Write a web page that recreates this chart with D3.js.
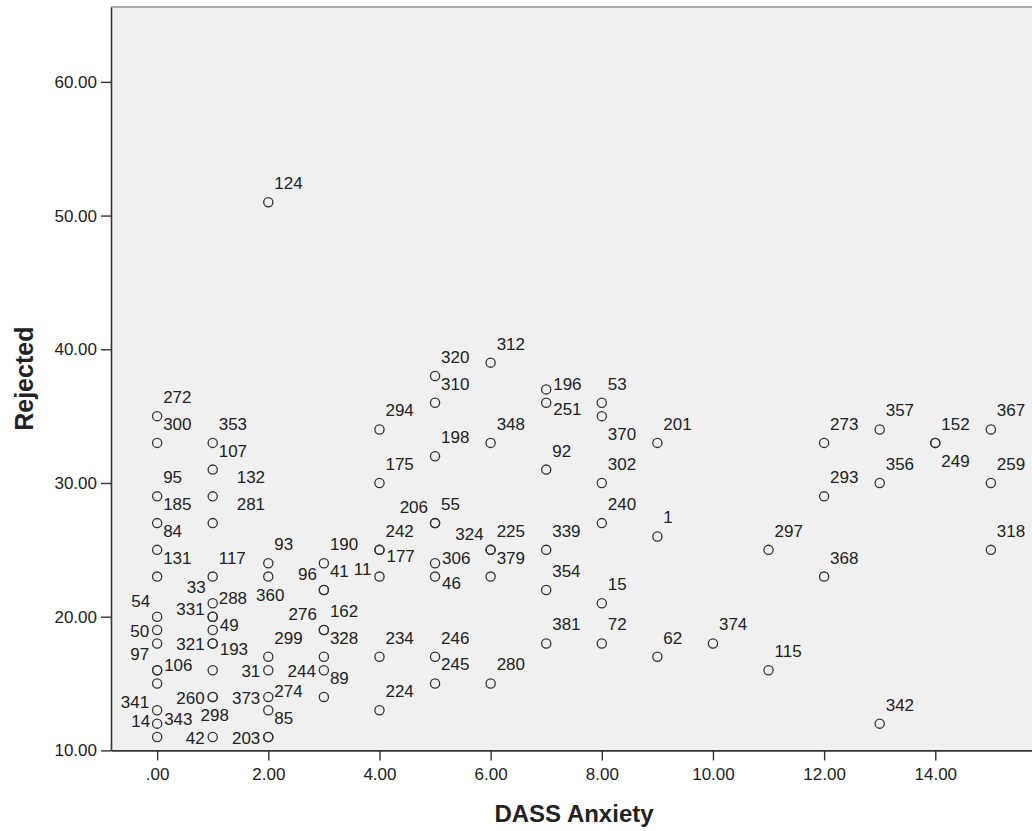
<!DOCTYPE html>
<html>
<head>
<meta charset="utf-8">
<title>Rejected x DASS Anxiety</title>
<script src="https://cdn.jsdelivr.net/npm/d3@7"></script>
<style>
  body { margin: 0; background: #fff; }
  svg text { font-family: "Liberation Sans", Arial, sans-serif; fill: #222; }
</style>
</head>
<body>
<div id="chart"></div>
<script>
// Dados: ansiedade (DASS), rejeição e número do caso (agrupados por coluna de x)
const anxiety = [
    0, 0, 0, 0, 0, 0, 0, 0, 0, 0, 0, 0, 0, 0, 0,
    1, 1, 1, 1, 1, 1, 1, 1, 1, 1, 1, 1, 1, 1, 1,
    2, 2, 2, 2, 2, 2, 2, 2, 2,
    3, 3, 3, 3, 3, 3, 3, 3,
    4, 4, 4, 4, 4, 4, 4,
    5, 5, 5, 5, 5, 5, 5, 5, 5,
    6, 6, 6, 6, 6, 6,
    7, 7, 7, 7, 7, 7,
    8, 8, 8, 8, 8, 8,
    9, 9, 9,
    10,
    11, 11,
    12, 12, 12,
    13, 13, 13,
    14, 14,
    15, 15, 15
];
const rejected = [
    35, 33, 29, 27, 25, 23, 20, 19, 18, 16, 16, 15, 13, 12, 11,
    33, 31, 29, 27, 23, 21, 20, 20, 19, 18, 18, 16, 14, 14, 11,
    51, 24, 23, 17, 16, 14, 13, 11, 11,
    24, 22, 22, 19, 19, 17, 16, 14,
    34, 30, 25, 25, 23, 17, 13,
    38, 36, 32, 27, 27, 24, 23, 17, 15,
    39, 33, 25, 25, 23, 15,
    37, 36, 31, 25, 22, 18,
    36, 35, 30, 27, 21, 18,
    33, 26, 17,
    18,
    25, 16,
    33, 29, 23,
    34, 30, 12,
    33, 33,
    34, 30, 25
];
const caseIds = [
    272, 300, 95, 185, 84, 131, 54, 50, 97, 106, null, null, 341, 343, 14,
    353, 107, 132, 281, 117, 33, 288, 331, 49, 321, 193, null, 260, 298, 42,
    124, 93, 360, 299, 31, 373, 274, 203, 85,
    190, 96, 41, 276, 162, 328, 244, 89,
    294, 175, 242, 177, 11, 234, 224,
    320, 310, 198, 206, 55, 306, 46, 246, 245,
    312, 348, 324, 225, 379, 280,
    196, 251, 92, 339, 354, 381,
    53, 370, 302, 240, 15, 72,
    201, 1, 62,
    374,
    297, 115,
    273, 293, 368,
    357, 356, 342,
    152, 249,
    367, 259, 318
];
// Lado do rótulo em relação ao ponto (como o SPSS evita sobreposição)
const labelSide = [
    "ne", "ne", "ne", "ne", "ne", "ne", "nw", "w", "sw", "e", "", "", "wnw", "e", "nw",
    "ne", "ne", "nee", "nee", "ne", "nw", "ne", "wnw", "e", "w", "se", "", "w", "s", "w",
    "ne", "ne", "s", "ne", "w", "w", "ne", "w", "ne",
    "ne", "nw", "ne", "nw", "ne", "ne", "w", "ne",
    "ne", "ne", "ne", "se", "wnw", "ne", "ne",
    "ne", "ne", "ne", "nw", "ne", "e", "se", "ne", "ne",
    "ne", "ne", "nw", "ne", "ne", "ne",
    "e", "se", "ne", "ne", "ne", "ne",
    "ne", "sse", "ne", "ne", "ne", "ne",
    "ne", "ne", "ne",
    "ne",
    "ne", "ne",
    "ne", "ne", "ne",
    "ne", "ne", "ne",
    "ne", "sse",
    "ne", "ne", "ne"
];

// Marcas dos eixos
const xTicks = [0, 2, 4, 6, 8, 10, 12, 14];
const xTickLabels = [".00", "2.00", "4.00", "6.00", "8.00", "10.00", "12.00", "14.00"];
const yTicks = [10, 20, 30, 40, 50, 60];
const yTickLabels = ["10.00", "20.00", "30.00", "40.00", "50.00", "60.00"];

const xTitle = "DASS Anxiety";
const yTitle = "Rejected";

// Monta a tabela de pontos
const data = anxiety.map((a, i) => ({
    x: a,
    y: rejected[i],
    id: caseIds[i],
    side: labelSide[i]
}));

const width = 1032;
const height = 831;
const plot = { left: 111, right: 1037, top: 7, bottom: 750.4 };

// Deslocamentos de cada lado do rótulo
const placements = {
    ne:  { dx: 6,  dy: -19, anchor: "start" },
    nee: { dx: 24, dy: -19, anchor: "start" },
    e:   { dx: 7,  dy: -5,  anchor: "start" },
    se:  { dx: 7,  dy: 6,   anchor: "start" },
    sse: { dx: 6,  dy: 18,  anchor: "start" },
    nw:  { dx: -7, dy: -16, anchor: "end" },
    wnw: { dx: -8, dy: -8,  anchor: "end" },
    w:   { dx: -8, dy: 1,   anchor: "end" },
    sw:  { dx: -8, dy: 11,  anchor: "end" },
    s:   { dx: 2,  dy: 18,  anchor: "middle" }
};

// Escalas
const x = d3.scaleLinear()
    .domain([-0.83, 15.83])
    .range([plot.left, plot.right]);

const y = d3.scaleLinear()
    .domain([10, 65.6])
    .range([plot.bottom, plot.top]);

const svg = d3.select("#chart")
    .append("svg")
    .attr("width", width)
    .attr("height", height);

// Fundo da área do gráfico
svg.append("rect")
    .attr("x", plot.left)
    .attr("y", plot.top)
    .attr("width", plot.right - plot.left)
    .attr("height", plot.bottom - plot.top)
    .attr("fill", "#f0f0f0");

// Borda superior
svg.append("line")
    .attr("x1", plot.left)
    .attr("x2", plot.right)
    .attr("y1", plot.top)
    .attr("y2", plot.top)
    .attr("stroke", "#666")
    .attr("stroke-width", 1.2);

// Eixo X
const xAxis = svg.append("g")
    .attr("transform", `translate(0,${plot.bottom})`)
    .call(d3.axisBottom(x)
        .tickValues(xTicks)
        .tickFormat((d, i) => xTickLabels[i])
        .tickSize(10)
        .tickSizeOuter(0)
        .tickPadding(8));

// Eixo Y
const yAxis = svg.append("g")
    .attr("transform", `translate(${plot.left},0)`)
    .call(d3.axisLeft(y)
        .tickValues(yTicks)
        .tickFormat((d, i) => yTickLabels[i])
        .tickSize(10)
        .tickSizeOuter(0)
        .tickPadding(4));

[xAxis, yAxis].forEach(ax => {
    ax.select(".domain").attr("stroke", "#333").attr("stroke-width", 1.6);
    ax.selectAll(".tick line").attr("stroke", "#333").attr("stroke-width", 1.4);
    ax.selectAll(".tick text")
        .attr("fill", "#222")
        .style("font-size", "17px")
        .style("font-family", "'Liberation Sans', Arial, sans-serif");
});

// Títulos dos eixos
svg.append("text")
    .attr("x", (plot.left + plot.right) / 2)
    .attr("y", 822)
    .attr("text-anchor", "middle")
    .style("font-size", "24px")
    .style("font-weight", "bold")
    .attr("fill", "#000")
    .text(xTitle);

svg.append("text")
    .attr("transform", `translate(33,${(plot.top + plot.bottom) / 2}) rotate(-90)`)
    .attr("text-anchor", "middle")
    .style("font-size", "25px")
    .style("font-weight", "bold")
    .attr("fill", "#000")
    .text(yTitle);

// Pontos
svg.append("g")
    .selectAll("circle")
    .data(data)
    .enter()
    .append("circle")
    .attr("cx", d => x(d.x))
    .attr("cy", d => y(d.y))
    .attr("r", 4.6)
    .attr("fill", "none")
    .attr("stroke", "#333")
    .attr("stroke-width", 1.3);

// Rótulos dos casos
svg.append("g")
    .selectAll("text")
    .data(data.filter(d => d.id !== null))
    .enter()
    .append("text")
    .attr("x", d => x(d.x) + placements[d.side].dx)
    .attr("y", d => y(d.y) + placements[d.side].dy)
    .attr("dy", "0.35em")
    .attr("text-anchor", d => placements[d.side].anchor)
    .style("font-size", "17px")
    .text(d => d.id);
</script>
</body>
</html>
